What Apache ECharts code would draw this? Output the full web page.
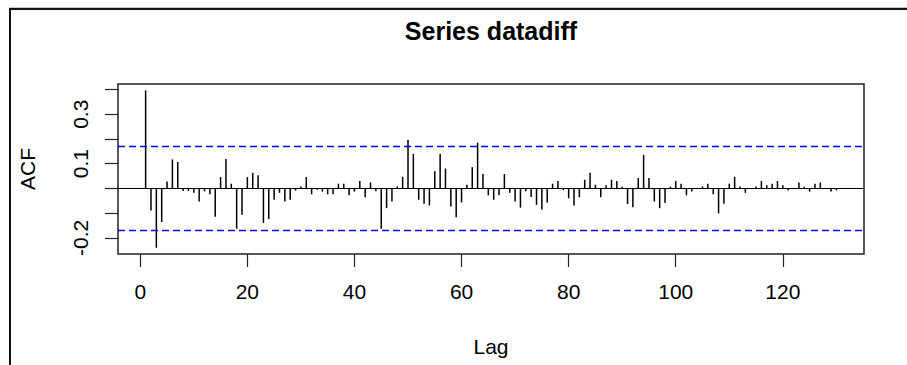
<!DOCTYPE html>
<html>
<head>
<meta charset="utf-8">
<script src="https://cdn.jsdelivr.net/npm/echarts@6/dist/echarts.min.js"></script>
<style>
html,body{margin:0;padding:0;background:#fff;}
#chart{width:907px;height:365px;}
</style>
</head>
<body>
<div id="chart"></div>
<script>
// ---- data ----
const lags = [];
for (let k = 1; k <= 130; k++) lags.push(k);
const acfValues = [
  0.397, -0.089, -0.240, -0.136, 0.028, 0.117, 0.107, -0.011, -0.011, -0.018,
  -0.053, -0.012, -0.024, -0.115, 0.046, 0.119, 0.019, -0.163, -0.107, 0.046,
  0.063, 0.053, -0.140, -0.124, -0.046, -0.018, -0.053, -0.046, -0.009, 0.008,
  0.046, -0.024, -0.005, -0.013, -0.024, -0.024, 0.019, 0.019, -0.028, -0.013,
  0.030, -0.036, 0.024, -0.012, -0.163, -0.080, -0.053, 0.008, 0.047, 0.197,
  0.140, -0.046, -0.062, -0.069, 0.069, 0.140, 0.080, -0.073, -0.117, -0.057,
  0.015, 0.086, 0.185, 0.058, -0.028, -0.046, -0.028, 0.058, -0.018, -0.053,
  -0.078, -0.012, -0.035, -0.067, -0.085, -0.057, 0.019, 0.030, -0.007, -0.040,
  -0.069, -0.036, 0.035, 0.063, 0.015, -0.036, 0.013, 0.035, 0.030, 0.007,
  -0.063, -0.076, 0.042, 0.136, 0.042, -0.053, -0.080, -0.059, 0.007, 0.030,
  0.019, -0.028, -0.013, 0.002, 0.008, 0.019, -0.024, -0.101, -0.062, 0.019,
  0.047, 0.008, -0.018, 0.001, 0.008, 0.030, 0.013, 0.019, 0.030, 0.013,
  -0.009, 0.002, 0.024, 0.007, -0.013, 0.019, 0.024, 0.001, -0.013, -0.008
];
const confLimit = 0.172;
const xTicks = [0, 20, 40, 60, 80, 100, 120];
const yTicks = [-0.2, -0.1, 0, 0.1, 0.2, 0.3, 0.4];
const yTickLabels = [-0.2, 0.1, 0.3];
const titleText = 'Series datadiff';
const xName = 'Lag';
const yName = 'ACF';

const FONT = "'Liberation Sans', Arial, sans-serif";
const chart = echarts.init(document.getElementById('chart'), null, {renderer: 'svg'});

const spikeData = lags.map((l, i) => [l, acfValues[i]]);

const option = {
  backgroundColor: '#fff',
  animation: false,
  title: {
    text: titleText,
    left: 491,
    top: 18,
    textAlign: 'center',
    padding: 0,
    textStyle: {fontFamily: FONT, fontSize: 25, fontWeight: 'bold', color: '#000'}
  },
  grid: {
    left: 118, top: 84, width: 746, height: 170,
    show: true, borderColor: '#222', borderWidth: 1.5, backgroundColor: 'transparent'
  },
  xAxis: {
    type: 'value',
    min: -4.16, max: 135.16,
    name: xName,
    nameLocation: 'middle',
    nameGap: 82,
    nameTextStyle: {fontFamily: FONT, fontSize: 21, color: '#000'},
    axisLine: {show: false, onZero: false},
    splitLine: {show: false},
    axisTick: {show: true, inside: false, length: 13, customValues: xTicks, lineStyle: {color: '#222', width: 1.2}},
    axisLabel: {show: true, margin: 27, customValues: xTicks, fontFamily: FONT, fontSize: 21, color: '#000'}
  },
  yAxis: {
    type: 'value',
    min: -0.2655, max: 0.4225,
    name: yName,
    nameLocation: 'middle',
    nameRotate: 90,
    nameGap: 80,
    nameTextStyle: {fontFamily: FONT, fontSize: 21, color: '#000'},
    axisLine: {show: false, onZero: false},
    splitLine: {show: false},
    axisTick: {show: true, inside: false, length: 13, customValues: yTicks, lineStyle: {color: '#222', width: 1.2}},
    axisLabel: {
      show: true, rotate: 90, margin: 27, customValues: yTickLabels,
      fontFamily: FONT, fontSize: 21, color: '#000',
      formatter: v => String(Math.round(v * 10) / 10)
    }
  },
  series: [{
    type: 'custom',
    data: spikeData,
    clip: true,
    renderItem: function (params, api) {
      const x = api.value(0), v = api.value(1);
      const p0 = api.coord([x, 0]);
      const p1 = api.coord([x, v]);
      return {
        type: 'line',
        shape: {x1: p0[0], y1: p0[1], x2: p1[0], y2: p1[1]},
        style: {stroke: '#000', lineWidth: 1.5}
      };
    },
    markLine: {
      silent: true,
      symbol: 'none',
      label: {show: false},
      animation: false,
      data: [
        {yAxis: 0, lineStyle: {color: '#000', width: 1.2, type: 'solid'}},
        {yAxis: confLimit, lineStyle: {color: '#0000ff', width: 1.3, type: [7, 4]}},
        {yAxis: -confLimit, lineStyle: {color: '#0000ff', width: 1.3, type: [7, 4]}}
      ]
    }
  }],
  graphic: [
    {type: 'line', shape: {x1: 9, y1: 7.5, x2: 907, y2: 7.5}, style: {stroke: '#c8c8c8', lineWidth: 1}},
    {type: 'line', shape: {x1: 9, y1: 9, x2: 907, y2: 9}, style: {stroke: '#111', lineWidth: 2}},
    {type: 'line', shape: {x1: 10, y1: 8, x2: 10, y2: 365}, style: {stroke: '#111', lineWidth: 2}}
  ]
};
chart.setOption(option);
</script>
</body>
</html>
